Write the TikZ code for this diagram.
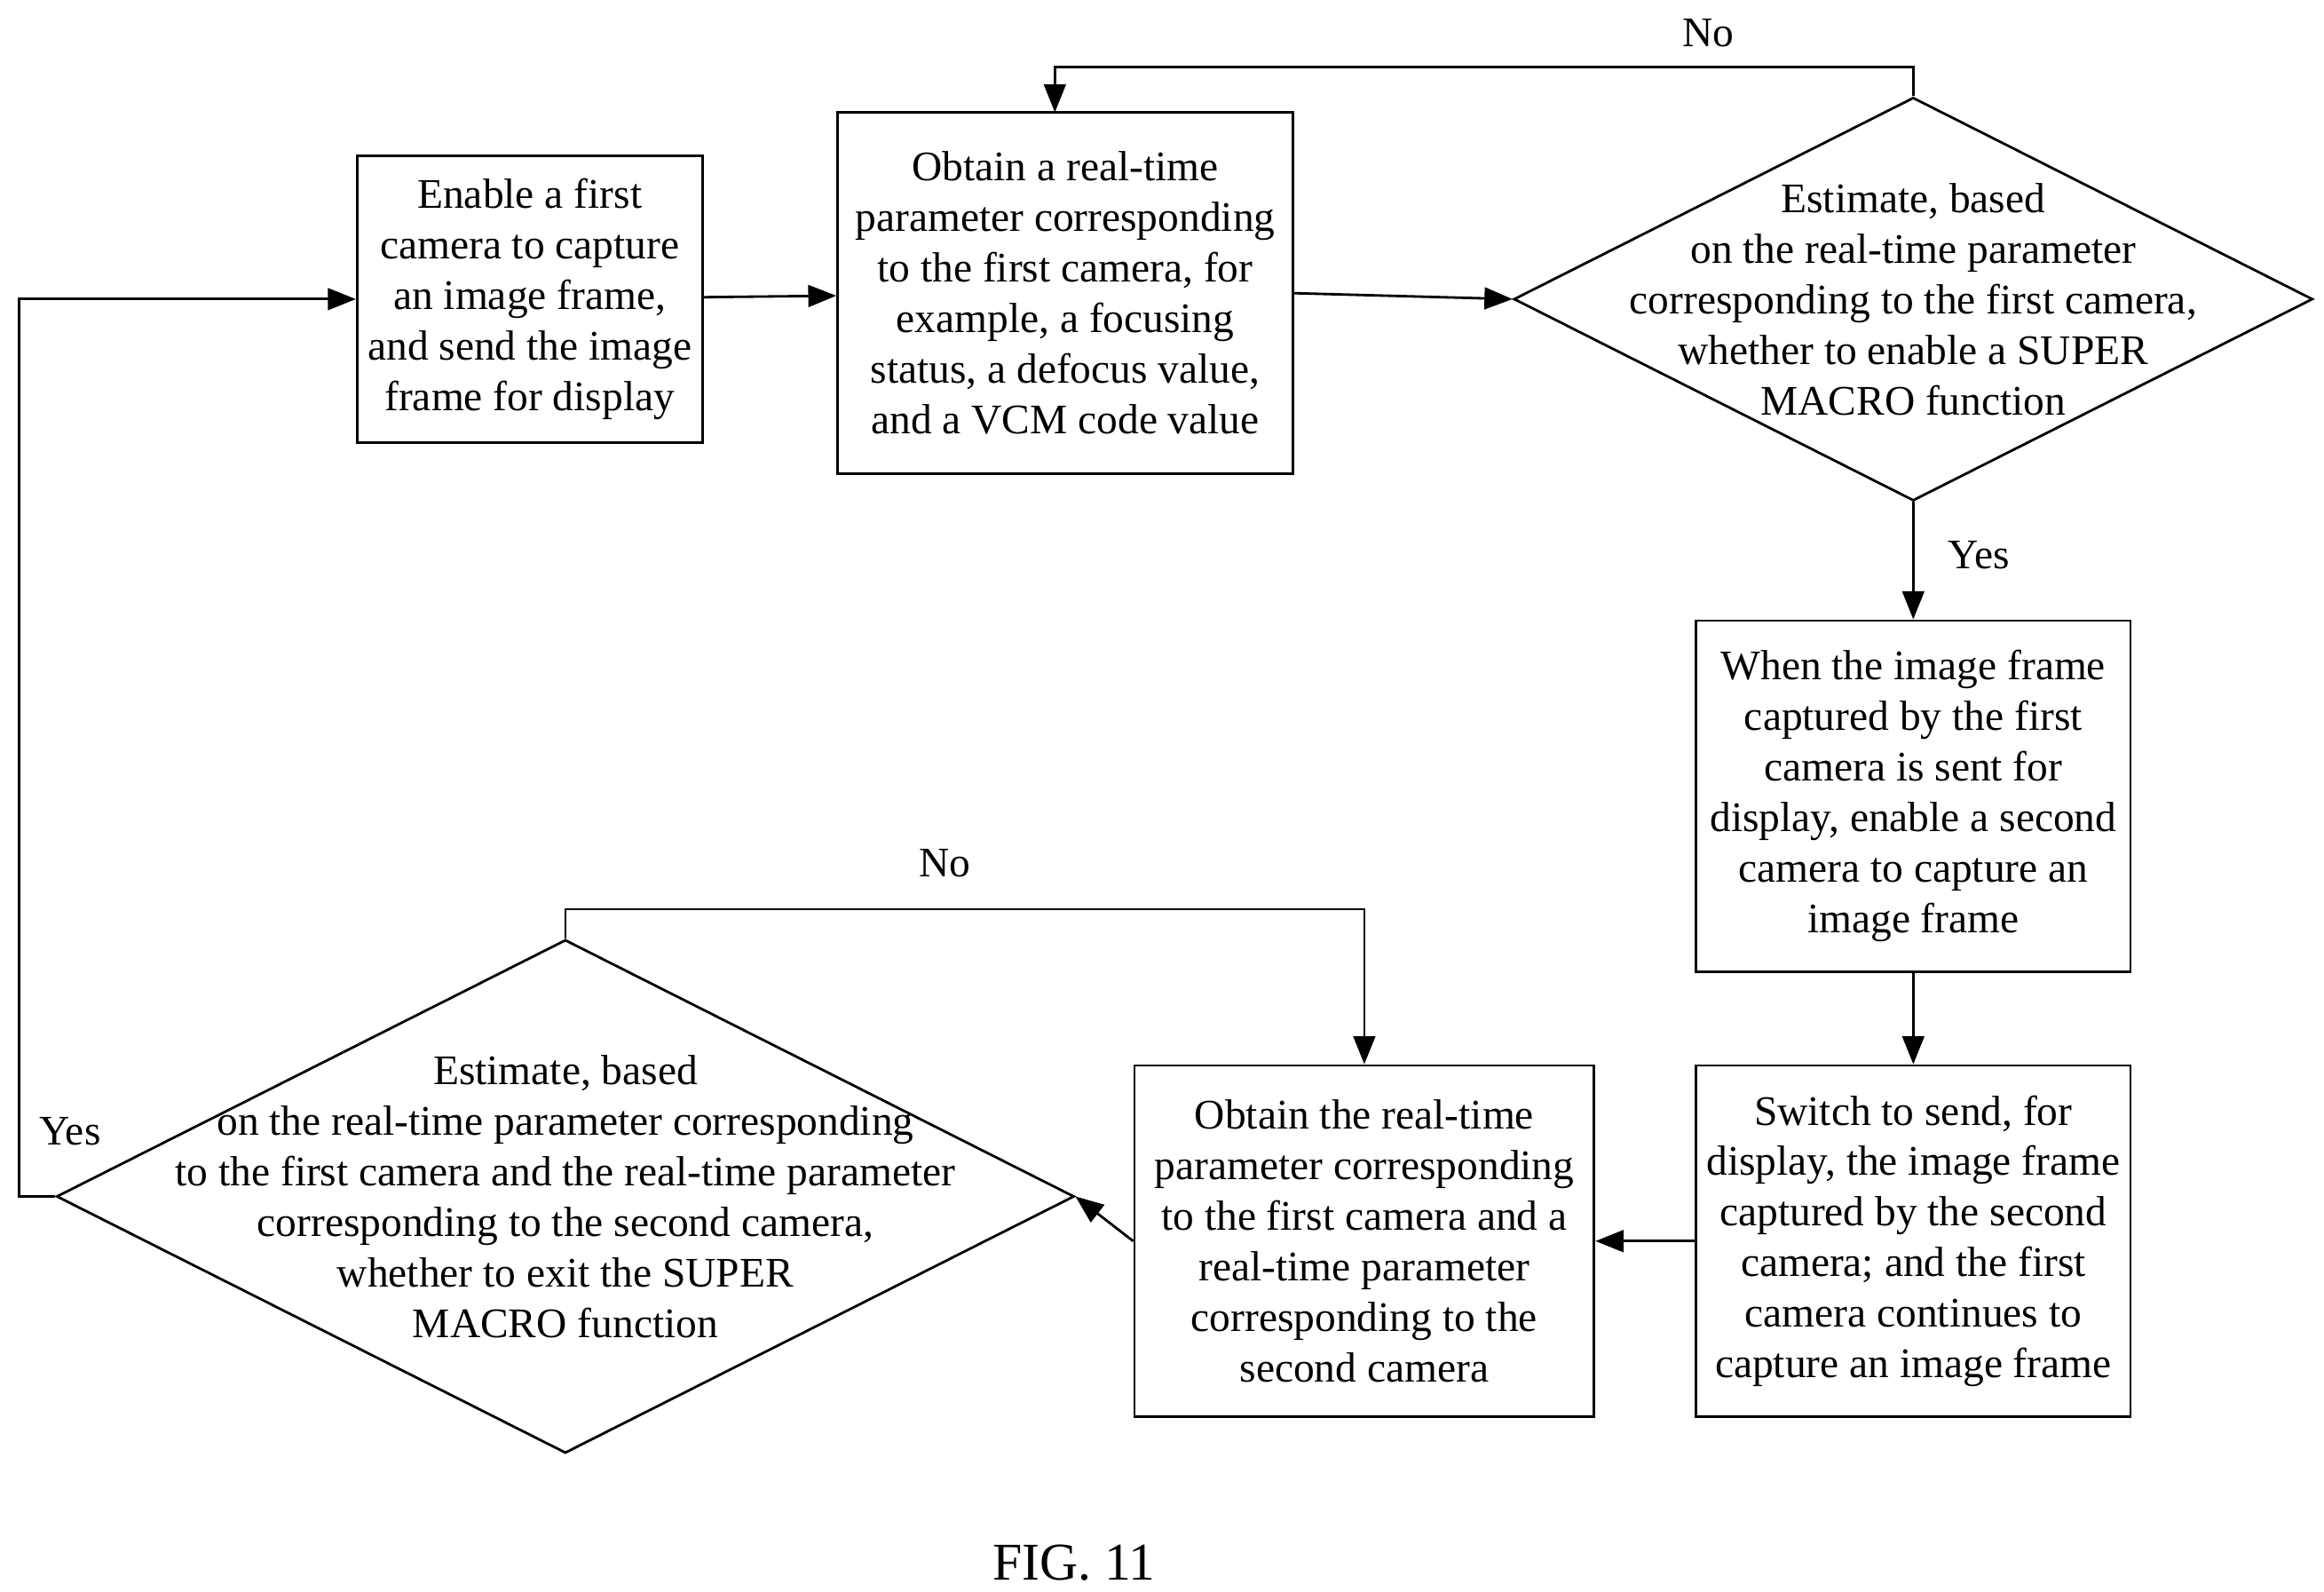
\documentclass[tikz,border=0pt]{standalone}
\usepackage{fontspec}
\setmainfont{Liberation Serif}
\usetikzlibrary{shapes.geometric,arrows.meta}
\begin{document}
\begin{tikzpicture}[font=\fontsize{13.5}{16.2}\selectfont, line width=0.8pt, >={Triangle[length=9pt,width=7pt]}]
    \tikzstyle{procbox} = [rectangle, draw, align=center, inner sep=0pt]
    \tikzstyle{decide} = [diamond, draw, inner sep=0pt]
    \tikzstyle{txt} = [align=center]
    \useasboundingbox (0,0) rectangle (26.18,-17.93);

    % Boxes
    \node[procbox, minimum width=3.888cm, minimum height=3.235cm] (enable) at (5.967,-3.369)
        {Enable a first\\camera to capture\\an image frame,\\and send the image\\frame for display};
    \node[procbox, minimum width=5.129cm, minimum height=4.073cm] (obtain1) at (12.000,-3.302)
        {Obtain a real-time\\parameter corresponding\\to the first camera, for\\example, a focusing\\status, a defocus value,\\and a VCM code value};
    \node[procbox, minimum width=4.894cm, minimum height=3.955cm] (second) at (21.553,-8.967)
        {When the image frame\\captured by the first\\camera is sent for\\display, enable a second\\camera to capture an\\image frame};
    \node[procbox, minimum width=4.894cm, minimum height=3.955cm] (switch) at (21.553,-13.978)
        {Switch to send, for\\display, the image frame\\captured by the second\\camera; and the first\\camera continues to\\capture an image frame};
    \node[procbox, minimum width=5.179cm, minimum height=3.955cm] (obtain2) at (15.369,-13.978)
        {Obtain the real-time\\parameter corresponding\\to the first camera and a\\real-time parameter\\corresponding to the\\second camera};

    % Decisions
    \node[decide, minimum width=9.0cm, minimum height=4.542cm] (enter) at (21.553,-3.369) {};
    \node[txt] at (enter) {Estimate, based\\on the real-time parameter\\corresponding to the first camera,\\whether to enable a SUPER\\MACRO function};
    \node[decide, minimum width=11.464cm, minimum height=5.782cm] (exit) at (6.369,-13.475) {};
    \node[txt] at (exit) {Estimate, based\\on the real-time parameter corresponding\\to the first camera and the real-time parameter\\corresponding to the second camera,\\whether to exit the SUPER\\MACRO function};

    % Connectors
    \draw[->] (enable) -- (obtain1);
    \draw[->] (obtain1.east) -- (enter.west);
    \draw[->] (enter.north) |- (11.883,-0.754) -- (11.883,-1.266);
    \draw[->] (enter) -- (second);
    \draw[->] (second) -- (switch);
    \draw[->] (switch) -- (obtain2);
    \draw[->] (obtain2.west) -- (exit.east);
    \draw[->] (exit.north) |- (15.369,-10.24) -- (obtain2.north);
    \draw[->] (exit.west) -- (0.218,-13.475) |- (enable.west);

    % Labels
    \node (no1) at (19.24,-0.37) {No};
    \node (yes1) at (22.29,-6.25) {Yes};
    \node (no2) at (10.64,-9.72) {No};
    \node (yes2) at (0.79,-12.74) {Yes};
    \node[font=\fontsize{17}{20}\selectfont] (fig) at (12.10,-17.60) {FIG. 11};
\end{tikzpicture}
\end{document}
